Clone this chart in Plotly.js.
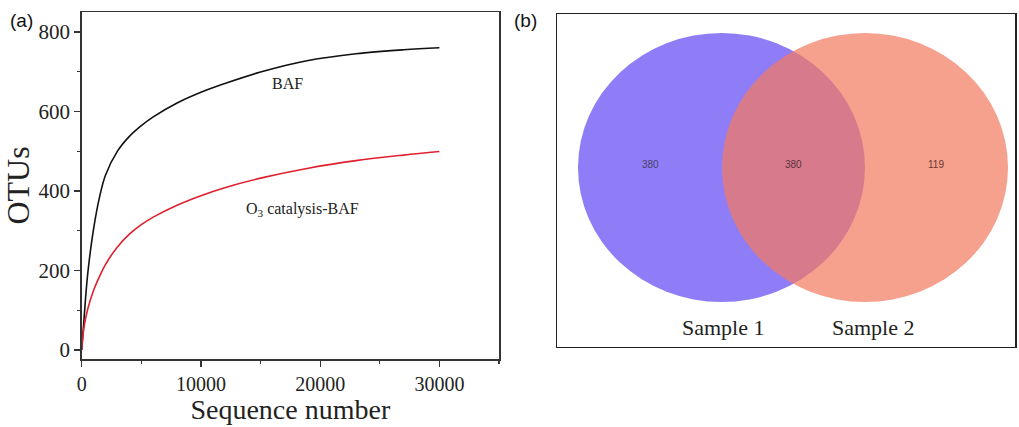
<!DOCTYPE html>
<html>
<head>
<meta charset="utf-8">
<script src="https://cdn.plot.ly/plotly-3.0.1.min.js"></script>
<style>html,body{margin:0;padding:0;background:#fff;}#chart{width:1019px;height:427px;}</style>
</head>
<body>
<div id="chart"></div>
<script>
// Rarefaction curves (panel a)
const seqNumber = [0, 200, 500, 1000, 1500, 2000, 3000, 4000, 5000, 6000, 8000, 10000, 12000, 15000, 19000, 23000, 27000, 30000];
const otusBAF   = [0, 80, 190, 305, 385, 440, 500, 537, 564, 586, 621, 648, 670, 699, 728, 745, 755, 760];
const otusO3BAF = [0, 58, 102, 150, 185, 215, 259, 291, 315, 334, 364, 388, 408, 432, 457, 476, 490, 499];
const seriesNames = ["BAF", "O<sub>3</sub> catalysis-BAF"];
const xTickVals = [0, 10000, 20000, 30000];
const yTickVals = [0, 200, 400, 600, 800];

// Venn diagram (panel b)
const vennSets = ["Sample 1", "Sample 2"];
const vennCounts = [380, 380, 119]; // only Sample 1, shared, only Sample 2

const serif = "Liberation Serif, Times New Roman, serif";
const sans = "Liberation Sans, Arial, sans-serif";
const W = 1019, H = 427;
const px = v => v / W;
const py = v => 1 - v / H;

const traces = [
  {x: seqNumber, y: otusBAF, type: "scatter", mode: "lines", line: {color: "#111111", width: 1.6, shape: "spline", smoothing: 1}, xaxis: "x", yaxis: "y", name: seriesNames[0], hoverinfo: "skip"},
  {x: seqNumber, y: otusO3BAF, type: "scatter", mode: "lines", line: {color: "#e0202e", width: 1.6, shape: "spline", smoothing: 1}, xaxis: "x", yaxis: "y", name: seriesNames[1], hoverinfo: "skip"},
  // invisible anchor for Venn axes
  {x: [556, 1017], y: [13, 348], type: "scatter", mode: "markers", marker: {opacity: 0}, xaxis: "x2", yaxis: "y2", hoverinfo: "skip"}
];

const layout = {
  width: W, height: H,
  margin: {l: 0, r: 0, t: 0, b: 0},
  paper_bgcolor: "#ffffff", plot_bgcolor: "#ffffff",
  showlegend: false,
  xaxis: {
    domain: [px(81.7), px(499)], range: [0, 35000],
    showline: true, mirror: true, linecolor: "#333", linewidth: 1.5,
    ticks: "outside", ticklen: 6, tickwidth: 1.3, tickcolor: "#333",
    tickvals: xTickVals, ticktext: xTickVals.map(String),
    minor: {ticks: "outside", dtick: 5000, ticklen: 3, tickcolor: "#333", tickwidth: 1.2},
    showgrid: false, zeroline: false,
    tickfont: {family: serif, size: 20, color: "#222"},
    title: {text: "Sequence number", font: {family: serif, size: 28, color: "#222"}, standoff: 1},
    anchor: "y"
  },
  yaxis: {
    domain: [py(359), py(12)], range: [-23, 850],
    showline: true, mirror: true, linecolor: "#333", linewidth: 1.5,
    ticks: "outside", ticklen: 6, tickwidth: 1.3, tickcolor: "#333",
    tickvals: yTickVals, ticktext: yTickVals.map(String),
    minor: {ticks: "outside", dtick: 100, ticklen: 3, tickcolor: "#333", tickwidth: 1.2},
    showgrid: false, zeroline: false,
    tickfont: {family: serif, size: 21, color: "#222"},
    title: {text: "OTUs", font: {family: serif, size: 32, color: "#222"}, standoff: 2},
    anchor: "x"
  },
  xaxis2: {domain: [px(556), px(1017)], range: [556, 1017], visible: false, anchor: "y2", fixedrange: true},
  yaxis2: {domain: [py(348), py(13)], range: [348, 13], visible: false, anchor: "x2", fixedrange: true},
  shapes: [
    {type: "rect", xref: "x2", yref: "y2", x0: 556, x1: 1016, y0: 13, y1: 348, line: {color: "#222", width: 2}, fillcolor: "rgba(0,0,0,0)"},
    {type: "circle", xref: "x2", yref: "y2", x0: 578, x1: 865, y0: 33, y1: 302, line: {width: 0}, fillcolor: "rgb(143,124,247)"},
    {type: "circle", xref: "x2", yref: "y2", x0: 722, x1: 1008, y0: 33, y1: 302, line: {width: 0}, fillcolor: "rgba(243,123,98,0.72)"}
  ],
  annotations: [
    {text: "BAF", x: 17225, y: 670, xref: "x", yref: "y", showarrow: false, font: {family: serif, size: 16, color: "#222"}},
    {text: seriesNames[1], x: 18480, y: 352, xref: "x", yref: "y", showarrow: false, font: {family: serif, size: 16, color: "#222"}},
    {text: "(a)", x: px(8), y: py(20), xref: "paper", yref: "paper", xanchor: "left", yanchor: "middle", showarrow: false, font: {family: sans, size: 19, color: "#111"}},
    {text: "(b)", x: px(512), y: py(20), xref: "paper", yref: "paper", xanchor: "left", yanchor: "middle", showarrow: false, font: {family: sans, size: 19, color: "#111"}},
    {text: String(vennCounts[0]), x: 650, y: 164, xref: "x2", yref: "y2", showarrow: false, font: {family: sans, size: 10, color: "#4a3f6a"}},
    {text: String(vennCounts[1]), x: 793, y: 164, xref: "x2", yref: "y2", showarrow: false, font: {family: sans, size: 10, color: "#5a3040"}},
    {text: String(vennCounts[2]), x: 936, y: 164, xref: "x2", yref: "y2", showarrow: false, font: {family: sans, size: 10, color: "#6a3a30"}},
    {text: vennSets[0], x: 723, y: 327, xref: "x2", yref: "y2", showarrow: false, font: {family: serif, size: 22, color: "#222"}},
    {text: vennSets[1], x: 873, y: 327, xref: "x2", yref: "y2", showarrow: false, font: {family: serif, size: 22, color: "#222"}}
  ]
};

Plotly.newPlot("chart", traces, layout, {displayModeBar: false, staticPlot: true});
</script>
</body>
</html>
